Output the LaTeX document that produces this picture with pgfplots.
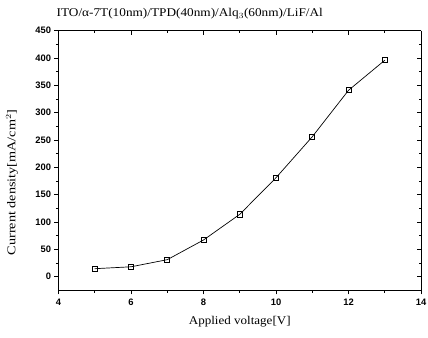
\documentclass[border=0pt]{standalone}
\usepackage{fontspec}
\setmainfont{Liberation Serif}
\newfontfamily\ticksfont{Liberation Sans}
\usepackage{graphicx}
\usepackage{pgfplots}
\pgfplotsset{compat=1.18}
\begin{document}
\begin{tikzpicture}
\pgfplotsset{
  common/.style={
    scale only axis, width=366bp, height=262bp,
    xmin=4, xmax=14, ymin=-25, ymax=450,
    xtick={4,6,...,14}, ytick={0,50,...,450},
    minor x tick num=1, minor y tick num=1,
    major tick length=4bp, minor tick length=2.5bp,
    tick style={black, line width=0.7pt},
  }
}
\begin{axis}[common, at={(0,0)},
  axis x line*=top, axis y line*=right,
  tick align=inside,
  xticklabels={}, yticklabels={},
  axis line style={line width=0.9pt},
]
\end{axis}
\begin{axis}[common, name=ax, at={(0,0)},
  axis x line*=bottom, axis y line*=left,
  axis line style={line width=0.9pt, -},
  tick align=outside,
  /pgf/number format/assume math mode=true,
  ticklabel style={font=\ticksfont\bfseries\fontsize{9.5}{10}\selectfont},
  xticklabel style={yshift=-1bp},
]
\addplot[black, line width=0.7pt, mark=square, mark size=2.6bp, mark options={solid, line width=0.8pt, fill=white}]
coordinates {(5,14.5) (6,18) (7,31) (8,67) (9,114) (10,181) (11,256) (12,341) (13,396)};
\end{axis}
\node[font=\fontsize{12}{13}\selectfont, anchor=center] at ([yshift=-32bp]ax.south) {\scalebox{1.1}[1]{Applied voltage[V]}};
\node[font=\fontsize{12}{13}\selectfont, anchor=center, rotate=90] at ([xshift=-47bp,yshift=-22bp]ax.west) {\scalebox{1.2}[1]{Current density[mA/cm$^2$]}};
\node[anchor=base west, font=\fontsize{12}{13}\selectfont, inner sep=0pt] at ([xshift=-2bp,yshift=14bp]ax.north west) {\scalebox{1.12}[1]{ITO/α-7T(10nm)/TPD(40nm)/Alq$_3$(60nm)/LiF/Al}};
\pgfresetboundingbox
\path[use as bounding box] ([xshift=-59bp,yshift=-48bp]ax.south west) rectangle ([xshift=7bp,yshift=31bp]ax.north east);
\end{tikzpicture}
\end{document}
